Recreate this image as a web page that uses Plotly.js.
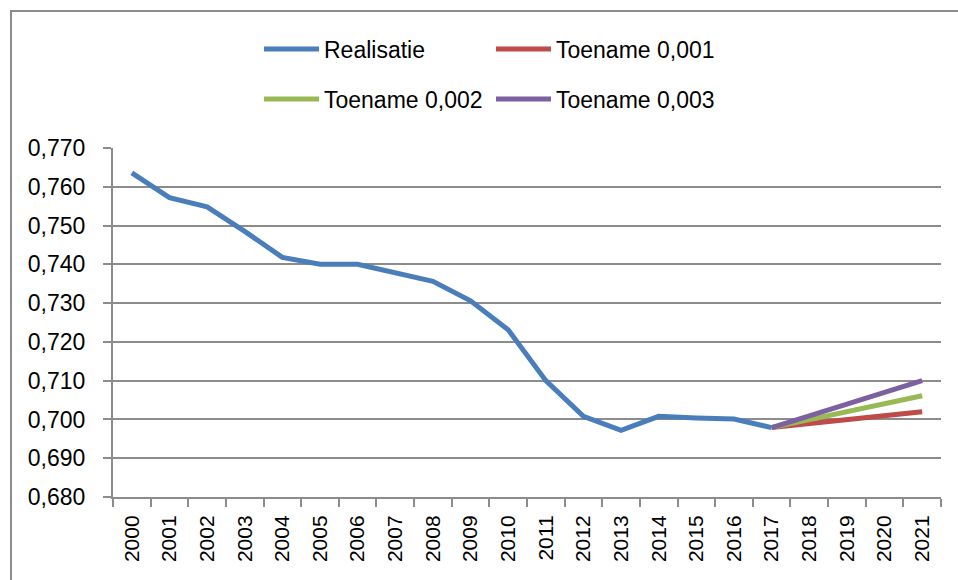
<!DOCTYPE html>
<html>
<head>
<meta charset="utf-8">
<script src="https://cdn.plot.ly/plotly-3.0.1.min.js"></script>
<style>
  html, body { margin: 0; padding: 0; background: #ffffff; overflow: hidden; }
  #frame { position: absolute; left: 10px; top: 10px; width: 980px; height: 600px; border: 2px solid #8c8c8c; box-sizing: border-box; pointer-events: none; }
  #chart { position: absolute; left: 0; top: 0; width: 958px; height: 580px; }
</style>
</head>
<body>
<div id="chart"></div>
<div id="frame"></div>
<script>
const years = ['2000','2001','2002','2003','2004','2005','2006','2007','2008','2009','2010',
               '2011','2012','2013','2014','2015','2016','2017','2018','2019','2020','2021'];
const realisatie = [0.7636, 0.7572, 0.7548, 0.7485, 0.7418, 0.7400, 0.7400, 0.7379, 0.7356, 0.7306,
                    0.7231, 0.7100, 0.7008, 0.6972, 0.7008, 0.7004, 0.7001, 0.6979,
                    null, null, null, null];
const toename001 = [null,null,null,null,null,null,null,null,null,null,null,null,null,null,null,null,null,
                    0.6979, 0.6990, 0.7000, 0.7010, 0.7020];
const toename002 = [null,null,null,null,null,null,null,null,null,null,null,null,null,null,null,null,null,
                    0.6979, 0.7000, 0.7020, 0.7040, 0.7061];
const toename003 = [null,null,null,null,null,null,null,null,null,null,null,null,null,null,null,null,null,
                    0.6979, 0.7010, 0.7040, 0.7070, 0.7100];
const yTicks = [0.68, 0.69, 0.70, 0.71, 0.72, 0.73, 0.74, 0.75, 0.76, 0.77];

const FONT = 'Liberation Sans, Arial, sans-serif';
const GRID = '#8c8c8c';

function tr(name, y, color, legend) {
  return { type: 'scatter', mode: 'lines', name: name, x: years, y: y,
           line: { color: color, width: 5 }, connectgaps: false, legend: legend,
           hoverinfo: 'skip' };
}
const data = [
  tr('Realisatie', realisatie, '#4a7ebb', 'legend'),
  tr('Toename 0,001', toename001, '#be4b48', 'legend'),
  tr('Toename 0,002', toename002, '#98b954', 'legend2'),
  tr('Toename 0,003', toename003, '#7d60a0', 'legend2')
];

const legendBase = {
  orientation: 'h', xref: 'container', yref: 'container',
  xanchor: 'left', yanchor: 'middle',
  font: { family: FONT, size: 23, color: '#000000' },
  itemwidth: 55, entrywidth: 162, entrywidthmode: 'pixels',
  bgcolor: 'rgba(0,0,0,0)', borderwidth: 0, tracegroupgap: 0
};

const layout = {
  width: 958, height: 580,
  margin: { l: 113, r: 17, t: 148, b: 83 },
  paper_bgcolor: '#ffffff', plot_bgcolor: '#ffffff',
  separators: ',.',
  showlegend: true,
  font: { family: FONT, color: '#000000' },
  legend: Object.assign({}, legendBase, { x: 259 / 958, y: 1 - 49 / 580 }),
  legend2: Object.assign({}, legendBase, { x: 259 / 958, y: 1 - 99 / 580 }),
  xaxis: {
    type: 'category', range: [-0.5, 21.5], tickson: 'boundaries',
    showline: true, linecolor: GRID, linewidth: 2,
    ticks: 'outside', ticklen: 8, tickcolor: GRID, tickwidth: 2,
    showgrid: false, tickangle: -90,
    tickfont: { family: FONT, size: 21, color: '#000000' },
    ticklabelstandoff: 8,
    fixedrange: true
  },
  yaxis: {
    range: [0.68, 0.77], tickvals: yTicks, tickformat: '.3f',
    showline: true, linecolor: GRID, linewidth: 2,
    ticks: 'outside', ticklen: 8, tickcolor: GRID, tickwidth: 2,
    showgrid: true, gridcolor: GRID, gridwidth: 2, zeroline: false,
    tickfont: { family: FONT, size: 23, color: '#000000' },
    ticklabelstandoff: 13,
    fixedrange: true
  }
};

Plotly.newPlot('chart', data, layout, { staticPlot: true, displayModeBar: false });
</script>
</body>
</html>
